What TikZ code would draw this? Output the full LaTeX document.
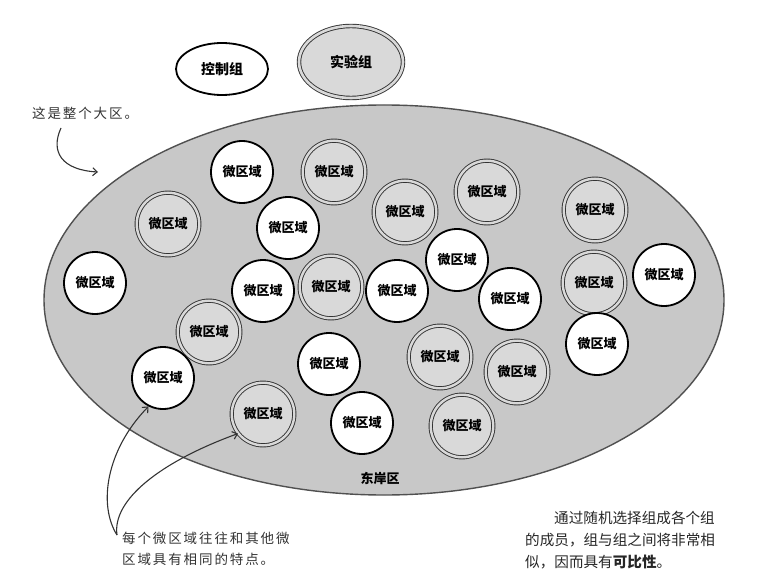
\documentclass[tikz,border=0pt]{standalone}
\usepackage{fontspec}
\newfontfamily\cjk{Noto Sans CJK SC}
\newfontfamily\cjkhand[LetterSpace=14]{Noto Sans CJK SC}
\usetikzlibrary{arrows.meta,shapes.geometric}
\definecolor{regionfill}{HTML}{C8C8C8}
\definecolor{dblfill}{HTML}{D9D9D9}
\definecolor{rimgray}{HTML}{505050}
\definecolor{inkgray}{HTML}{333333}
\tikzset{
  lbl/.style={font=\cjk\bfseries\fontsize{13bp}{15bp}\selectfont},
  wcirc/.style={circle, draw=black, line width=1.8bp, fill=white, minimum size=62bp, inner sep=0pt, lbl},
  dcirc/.style={circle, draw=black!80, line width=0.9bp, double=dblfill, double distance=2.4bp, fill=dblfill, minimum size=62.6bp, inner sep=0pt, lbl},
  handtxt/.style={font=\cjkhand\fontsize{13.5bp}{16bp}\selectfont, text=inkgray, inner sep=0pt, anchor=west},
  booktxt/.style={font=\cjk\fontsize{14.6bp}{17bp}\selectfont, text=black!85, inner sep=0pt, anchor=west},
  note/.style={draw=inkgray, line width=1.1bp, -{Straight Barb[length=4.5bp,width=8bp]}}
}
\begin{document}
\begin{tikzpicture}[x=1bp,y=-1bp]
\useasboundingbox (0,0) rectangle (765,588);
% top groups
\node[ellipse, draw=black, line width=1.8bp, fill=white, minimum width=92bp, minimum height=52bp, inner sep=0pt, font=\cjk\bfseries\fontsize{14bp}{16bp}\selectfont] (ctrl) at (222,69) {控制组};
\node[ellipse, draw=black!80, line width=0.9bp, double=dblfill, double distance=2.6bp, fill=dblfill, minimum width=104bp, minimum height=72bp, inner sep=0pt, font=\cjk\bfseries\fontsize{14bp}{16bp}\selectfont] (expt) at (351,62) {实验组};
% big region
\node[ellipse, draw=rimgray, line width=1.4bp, fill=regionfill, minimum width=680bp, minimum height=390bp, inner sep=0pt] (region) at (384,300) {};
\node[lbl] (east) at (380,478) {东岸区};
% micro regions
\node[wcirc] (c1) at (242,172) {微区域};
\node[dcirc] (c2) at (334,172) {微区域};
\node[dcirc] (c3) at (168,224) {微区域};
\node[wcirc] (c4) at (288,228) {微区域};
\node[dcirc] (c5) at (405,212) {微区域};
\node[dcirc] (c6) at (487,192) {微区域};
\node[dcirc] (c7) at (595,210) {微区域};
\node[wcirc] (c8) at (95,283) {微区域};
\node[wcirc] (c9) at (263,291) {微区域};
\node[dcirc] (c10) at (331,287) {微区域};
\node[wcirc] (c11) at (397,291) {微区域};
\node[wcirc] (c12) at (457,260) {微区域};
\node[wcirc] (c13) at (510,299) {微区域};
\node[dcirc] (c14) at (594,283) {微区域};
\node[wcirc] (c15) at (664,275) {微区域};
\node[wcirc] (c16) at (597,344) {微区域};
\node[dcirc] (c17) at (209,332) {微区域};
\node[wcirc] (c18) at (329,364) {微区域};
\node[dcirc] (c19) at (440,357) {微区域};
\node[dcirc] (c20) at (517,372) {微区域};
\node[wcirc] (c21) at (163,378) {微区域};
\node[dcirc] (c22) at (263,414) {微区域};
\node[wcirc] (c23) at (362,423) {微区域};
\node[dcirc] (c24) at (462,426) {微区域};
% annotations
\node[handtxt] (whole) at (32,113) {这是整个大区。};
\coordinate (wholeend) at (98,172);
\draw[note] (61,128) .. controls (50,152) and (62,170) .. (wholeend);
\node[handtxt] (same1) at (122,538) {每个微区域往往和其他微};
\node[handtxt] (same2) at (122,559) {区域具有相同的特点。};
\coordinate (samestart) at (117,535);
\draw[note] (samestart) .. controls (98,505) and (106,450) .. (c21.243);
\draw[note] (samestart) .. controls (112,500) and (160,462) .. (c22.218);
\node[booktxt] (book1) at (554,518) {通过随机选择组成各个组};
\node[booktxt] (book2) at (525,540) {的成员，组与组之间将非常相};
\node[booktxt] (book3) at (525,562) {似，因而具有{\bfseries 可比性}。};
\end{tikzpicture}
\end{document}
